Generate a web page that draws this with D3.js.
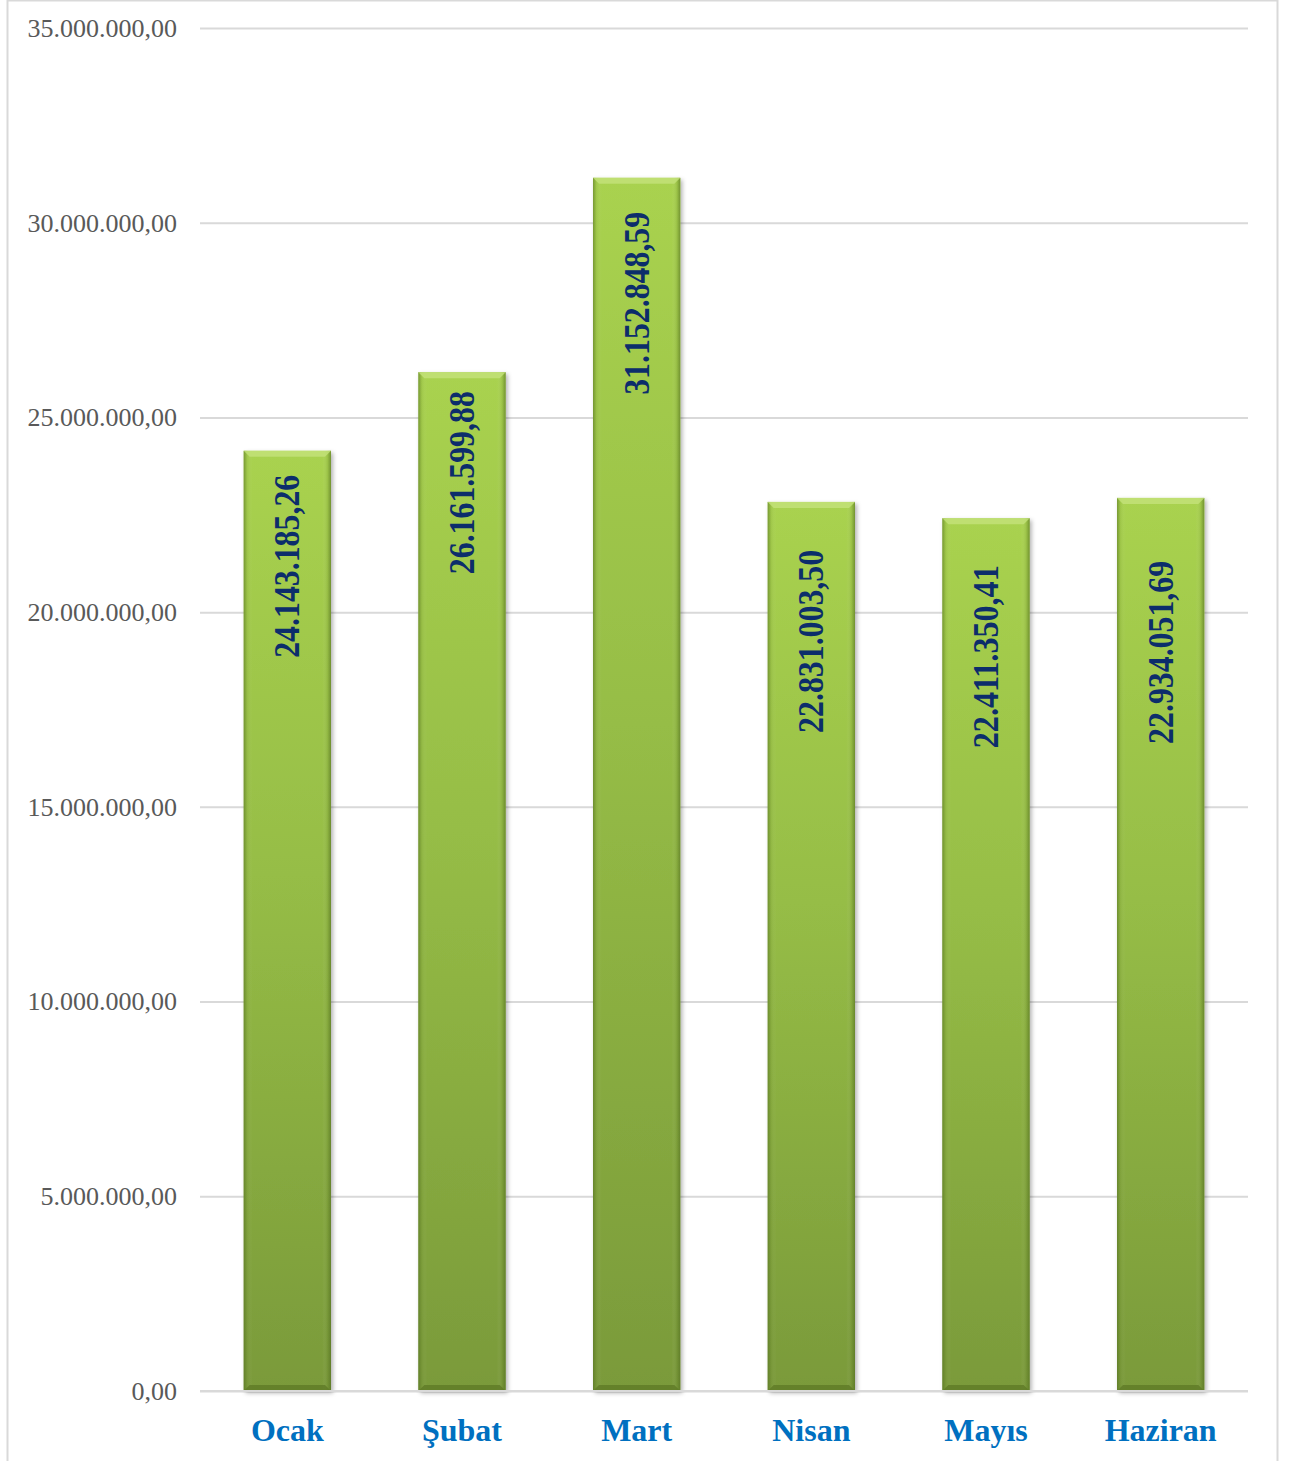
<!DOCTYPE html>
<html>
<head>
<meta charset="utf-8">
<script src="https://cdn.jsdelivr.net/npm/d3@7"></script>
<style>
  body { margin: 0; background: #fff; }
  svg { display: block; }
</style>
</head>
<body>
<div id="chart"></div>
<script>
// Monthly values (TL)
const months = ['Ocak', 'Şubat', 'Mart', 'Nisan', 'Mayıs', 'Haziran'];
const values = [24143185.26, 26161599.88, 31152848.59, 22831003.50, 22411350.41, 22934051.69];
const yTicks = [0, 5000000, 10000000, 15000000, 20000000, 25000000, 30000000, 35000000];

// label gap below each bar top (px) - labels were placed by hand in the original
const labelGap = [24, 19, 34, 48, 47, 63];

const W = 1293, H = 1461;
const margin = {top: 28, right: 45, bottom: 70, left: 200};
const width = W - margin.left - margin.right;
const height = 1363;

const fmt = d3.formatLocale({decimal: ',', thousands: '.', grouping: [3], currency: ['', '']}).format(',.2f');

const svg = d3.select('#chart').append('svg')
  .attr('width', W)
  .attr('height', H);

// outer frame
svg.append('rect')
  .attr('x', 7.5).attr('y', 0.5)
  .attr('width', 1270).attr('height', H + 10)
  .attr('fill', 'none')
  .attr('stroke', '#d9d9d9')
  .attr('stroke-width', 2);

const defs = svg.append('defs');
const vg = defs.append('linearGradient').attr('id', 'barFill')
  .attr('x1', 0).attr('y1', 0).attr('x2', 0).attr('y2', 1);
vg.append('stop').attr('offset', '0%').attr('stop-color', '#a9d24f');
vg.append('stop').attr('offset', '45%').attr('stop-color', '#96bd46');
vg.append('stop').attr('offset', '100%').attr('stop-color', '#7a9a3a');

const hg = defs.append('linearGradient').attr('id', 'barSide')
  .attr('x1', 0).attr('y1', 0).attr('x2', 1).attr('y2', 0);
hg.append('stop').attr('offset', '0%').attr('stop-color', '#4f6a1e').attr('stop-opacity', 0.55);
hg.append('stop').attr('offset', '4%').attr('stop-color', '#4f6a1e').attr('stop-opacity', 0.1);
hg.append('stop').attr('offset', '10%').attr('stop-color', '#ffffff').attr('stop-opacity', 0);
hg.append('stop').attr('offset', '90%').attr('stop-color', '#ffffff').attr('stop-opacity', 0);
hg.append('stop').attr('offset', '96%').attr('stop-color', '#4f6a1e').attr('stop-opacity', 0.15);
hg.append('stop').attr('offset', '100%').attr('stop-color', '#4f6a1e').attr('stop-opacity', 0.6);

const shadow = defs.append('filter').attr('id', 'shadow')
  .attr('x', '-10%').attr('y', '-5%').attr('width', '125%').attr('height', '110%');
shadow.append('feDropShadow')
  .attr('dx', 2).attr('dy', 2).attr('stdDeviation', 2)
  .attr('flood-color', '#000').attr('flood-opacity', 0.3);

const g = svg.append('g')
  .attr('transform', `translate(${margin.left},${margin.top})`);

const x = d3.scaleBand()
  .domain(months)
  .range([0, width])
  .paddingInner(0.5)
  .paddingOuter(0.25);

const y = d3.scaleLinear()
  .domain([0, 35000000])
  .range([height, 0]);

// Y axis with gridlines
const yAxis = g.append('g')
  .call(d3.axisLeft(y).tickValues(yTicks).tickSize(-width).tickPadding(23).tickFormat(fmt));
yAxis.select('.domain').remove();
yAxis.selectAll('.tick line')
  .attr('stroke', '#d9d9d9')
  .attr('stroke-width', 2);
yAxis.selectAll('.tick text')
  .attr('fill', '#595959')
  .style('font-family', '"Liberation Serif", "Times New Roman", serif')
  .style('font-size', '26px');

// bars
const bars = g.selectAll('.bar')
  .data(months)
  .enter()
  .append('g')
  .attr('class', 'bar');

bars.append('rect')
  .attr('x', d => x(d))
  .attr('y', (d, i) => y(values[i]))
  .attr('width', x.bandwidth())
  .attr('height', (d, i) => height - y(values[i]))
  .attr('fill', 'url(#barFill)')
  .attr('filter', 'url(#shadow)');

bars.append('rect')
  .attr('x', d => x(d))
  .attr('y', (d, i) => y(values[i]))
  .attr('width', x.bandwidth())
  .attr('height', (d, i) => height - y(values[i]))
  .attr('fill', 'url(#barSide)');

// top bevel
bars.append('path')
  .attr('d', (d, i) => {
    const x0 = x(d), x1 = x(d) + x.bandwidth(), t = y(values[i]);
    return `M${x0},${t}L${x1},${t}L${x1 - 6},${t + 6}L${x0 + 6},${t + 6}Z`;
  })
  .attr('fill', '#c4e27a')
  .attr('opacity', 0.8);

// bottom bevel
bars.append('path')
  .attr('d', d => {
    const x0 = x(d), x1 = x(d) + x.bandwidth(), b = height;
    return `M${x0},${b}L${x1},${b}L${x1 - 6},${b - 6}L${x0 + 6},${b - 6}Z`;
  })
  .attr('fill', '#5f7b27')
  .attr('opacity', 0.8);

// value labels, rotated (condensed bold serif)
bars.append('text')
  .attr('transform', (d, i) => `translate(${x(d) + x.bandwidth() / 2 + 12},${y(values[i]) + labelGap[i]}) rotate(-90)`)
  .attr('text-anchor', 'end')
  .attr('fill', '#0c2d6b')
  .attr('textLength', 183)
  .attr('lengthAdjust', 'spacingAndGlyphs')
  .style('font-family', '"Liberation Serif", "Times New Roman", serif')
  .style('font-weight', 'bold')
  .style('font-size', '35px')
  .text((d, i) => fmt(values[i]));

// baseline
g.append('line')
  .attr('x1', 0).attr('x2', width)
  .attr('y1', height).attr('y2', height)
  .attr('stroke', '#d9d9d9')
  .attr('stroke-width', 2);

// X axis labels
g.selectAll('.month')
  .data(months)
  .enter()
  .append('text')
  .attr('class', 'month')
  .attr('x', d => x(d) + x.bandwidth() / 2)
  .attr('y', height + 50)
  .attr('text-anchor', 'middle')
  .attr('fill', '#0070c0')
  .style('font-family', '"Liberation Serif", "Times New Roman", serif')
  .style('font-weight', 'bold')
  .style('font-size', '32px')
  .text(d => d);
</script>
</body>
</html>
